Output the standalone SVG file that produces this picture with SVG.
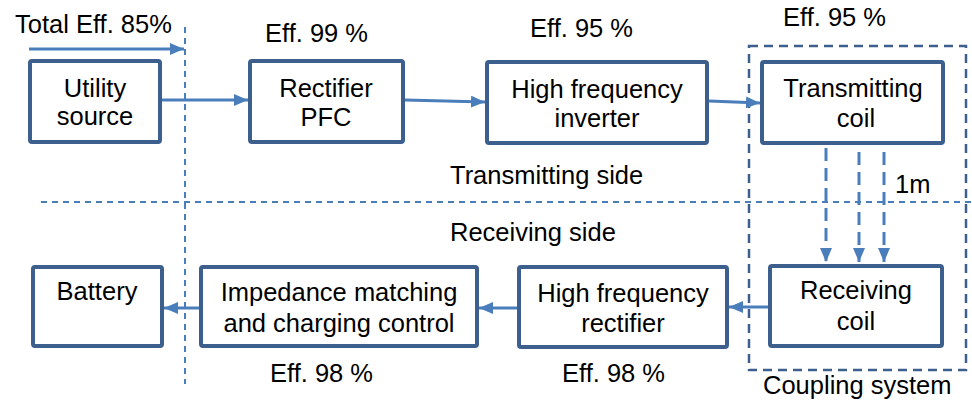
<svg xmlns="http://www.w3.org/2000/svg" width="972" height="407" viewBox="0 0 972 407">
<style>
.box{fill:#fff;stroke:#3c5f8d;stroke-width:4}
text{font-family:"Liberation Sans",Arial,sans-serif;font-size:25.5px;fill:#000}
.c{text-anchor:middle}
.ar{stroke:#4a7ebb;stroke-width:3;fill:none;marker-end:url(#ah)}
.dar{stroke:#4a7ebb;stroke-width:3;fill:none;stroke-dasharray:13,7;marker-end:url(#ah)}
.dl{stroke:#4a7ebb;stroke-width:2;fill:none;stroke-dasharray:6,5}
.cb{stroke:#3c5f8d;stroke-width:2.5;fill:none;stroke-dasharray:9,6}
</style>
<defs>
<marker id="ah" markerUnits="userSpaceOnUse" markerWidth="15" markerHeight="14" refX="14" refY="6" orient="auto">
<path d="M0,0 L14,6 L0,12 z" fill="#4a7ebb"/>
</marker>
</defs>
<rect class="cb" x="749" y="46" width="217" height="324"/>
<g id="connectors">
<line class="dl" x1="185" y1="27" x2="185" y2="384"/>
<line class="dl" x1="41" y1="202" x2="972" y2="202"/>
<line class="ar" x1="29" y1="49" x2="184" y2="49"/>
<line class="ar" x1="162" y1="100" x2="248" y2="100"/>
<line class="ar" x1="405" y1="100" x2="485" y2="102"/>
<line class="ar" x1="709" y1="101" x2="760" y2="103"/>
<line class="ar" x1="768" y1="307" x2="729" y2="307"/>
<line class="ar" x1="517" y1="308" x2="479" y2="308"/>
<line class="ar" x1="199" y1="308" x2="164" y2="308"/>
<line class="dar" x1="826" y1="148" x2="826" y2="262"/>
<line class="dar" x1="859" y1="152" x2="859" y2="262"/>
<line class="dar" x1="884" y1="152" x2="884" y2="262"/>
</g>
<g id="utility"><rect class="box" x="30" y="61" width="130" height="81" rx="2"/><text class="c" x="95" y="97">Utility</text><text class="c" x="95" y="125">source</text></g>
<g id="rectifier"><rect class="box" x="250" y="61" width="153" height="81" rx="2"/><text class="c" x="326" y="97">Rectifier</text><text class="c" x="326" y="126">PFC</text></g>
<g id="inverter"><rect class="box" x="487" y="62" width="220" height="81" rx="2"/><text class="c" x="597" y="98">High frequency</text><text class="c" x="597" y="127">inverter</text></g>
<g id="txcoil"><rect class="box" x="762" y="62" width="181" height="81" rx="2"/><text class="c" x="853" y="97">Transmitting</text><text class="c" x="856" y="127">coil</text></g>
<g id="battery"><rect class="box" x="33" y="267" width="129" height="79" rx="2"/><text class="c" x="97" y="300">Battery</text></g>
<g id="impedance"><rect class="box" x="201" y="267" width="276" height="79" rx="2"/><text class="c" x="339" y="301">Impedance matching</text><text class="c" x="339" y="332">and charging control</text></g>
<g id="hfrect"><rect class="box" x="519" y="267" width="208" height="80" rx="2"/><text class="c" x="623" y="302">High frequency</text><text class="c" x="623" y="332">rectifier</text></g>
<g id="rxcoil"><rect class="box" x="770" y="266" width="172" height="80" rx="2"/><text class="c" x="856" y="299">Receiving</text><text class="c" x="856" y="330">coil</text></g>
<g id="labels">
<text x="15" y="33">Total Eff. 85%</text>
<text x="265" y="42">Eff. 99 %</text>
<text x="530" y="37">Eff. 95 %</text>
<text x="783" y="26">Eff. 95 %</text>
<text x="450" y="184">Transmitting side</text>
<text x="450" y="241">Receiving side</text>
<text x="895" y="193">1m</text>
<text x="270" y="382">Eff. 98 %</text>
<text x="562" y="382">Eff. 98 %</text>
<text x="763" y="394">Coupling system</text>
</g>
</svg>
